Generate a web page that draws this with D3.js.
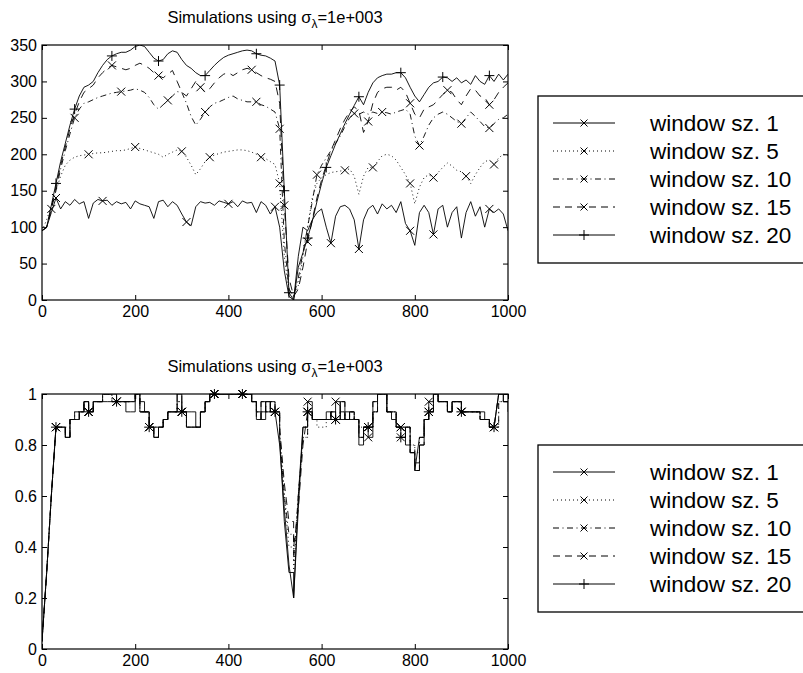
<!DOCTYPE html>
<html>
<head>
<meta charset="utf-8">
<script src="https://cdn.jsdelivr.net/npm/d3@7/dist/d3.min.js"></script>
<style>
body { margin: 0; background: #fff; }
svg { display: block; }
text { font-family: "Liberation Sans", Arial, sans-serif; fill: #000; }
</style>
</head>
<body>
<div id="chart-area"></div>
<script>
// sample positions (iteration) shared by every series
var sampleX = [0,10,20,30,40,50,60,70,80,90,100,110,120,130,140,150,160,170,180,190,
  200,210,220,230,240,250,260,270,280,290,300,310,320,330,340,350,360,370,380,390,
  400,410,420,430,440,450,460,470,480,490,500,510,520,530,540,550,560,570,580,590,
  600,610,620,630,640,650,660,670,680,690,700,710,720,730,740,750,760,770,780,790,
  800,810,820,830,840,850,860,870,880,890,900,910,920,930,940,950,960,970,980,990,1000];

var seriesNames = ["window sz. 1", "window sz. 5", "window sz. 10", "window sz. 15", "window sz. 20"];
var titleMain = "Simulations using \u03c3", titleSub = "\u03bb", titleTail = "=1e+003";

var xTicks = [0, 200, 400, 600, 800, 1000];
var yTicksTop = [0, 50, 100, 150, 200, 250, 300, 350];
var yTicksBottom = [0, 0.2, 0.4, 0.6, 0.8, 1];

// top panel values
var top1 = [95,100,120,140,125,135,130,138,132,135, 112,133,138,136,137,130,135,132,134,125,
  136,132,130,128,112,135,137,128,135,130, 118,107,102,128,135,133,134,130,136,134,
  132,135,128,136,133,134,120,135,130,118, 128,100,40,5,0,60,100,95,110,120,
  125,100,78,115,128,130,125,110,70,110, 125,130,118,132,125,130,120,135,105,95,
  75,120,130,120,90,125,130,100,120,128, 85,120,135,115,128,100,125,120,125,118, 95];
var top5 = [95,110,130,150,170,185,192,196,198,199, 200,201,202,202,203,204,205,205,206,208,
  210,208,206,204,202,200,196,200,203,206, 204,196,185,172,180,190,196,199,201,203,
  204,205,206,206,205,203,200,196,194,190, 186,160,60,10,2,20,60,100,140,160,
  168,172,175,176,177,178,180,170,145,170, 182,182,190,198,200,198,192,182,172,160,
  132,155,168,172,168,175,182,188,184,178, 176,170,160,172,182,190,192,186,195,200, 198];
var top10 = [95,100,125,150,180,205,228,250,262,270, 272,275,278,280,282,284,285,286,287,288,
  290,288,285,278,268,262,268,274,280,286, 285,270,252,240,248,258,265,270,272,275,
  278,280,276,274,272,272,272,268,266,262, 258,235,80,15,5,30,65,100,135,172,
  185,195,205,215,225,238,250,256,255,258, 255,258,256,258,257,255,258,260,262,255,
  225,212,225,240,250,255,258,255,250,245, 242,250,258,252,245,238,236,242,248,250, 255];
var top15 = [95,100,125,155,185,210,235,255,272,285, 290,295,305,312,318,322,320,318,316,318,
  322,325,322,318,312,308,305,310,315,300, 285,280,290,300,292,285,290,298,305,310,
  312,308,312,316,318,316,312,308,305,303, 300,270,130,30,5,15,45,80,110,140,
  165,185,205,220,235,248,258,265,260,230, 245,270,285,290,292,292,288,292,285,270,
  255,250,262,265,268,275,282,288,285,275, 268,280,290,288,280,278,268,275,285,292, 298];
var top20 = [95,100,130,160,190,215,240,262,280,292, 295,300,312,322,330,335,338,340,340,343,
  348,350,348,340,332,328,330,338,342,340, 330,322,318,312,308,308,315,322,328,333,
  336,338,340,342,343,342,338,336,335,332, 328,295,150,10,0,45,65,85,108,135,
  160,182,198,214,228,242,255,267,279,268, 285,298,305,308,310,310,312,312,305,292,
  280,272,282,292,298,300,306,305,300,305, 298,302,296,308,300,296,308,300,310,302, 310];

var topMarks1 = [30,130,310,400,500,620,680,790,840,960];
var topMarks5 = [100,200,300,360,470,510,650,710,790,840,910,970];
var topMarks10 = [70,170,270,350,460,510,590,670,730,810,900,960];
var topMarks15 = [20,150,250,340,450,520,570,700,790,870,960];
var topMarks20 = [30,70,150,250,350,460,510,520,530,570,610,680,770,860,960];

// bottom panel values
var bot1 = [0.03,0.3,0.6,0.87,0.87,0.83,0.9,0.93,0.93,0.97, 0.93,0.97,0.97,0.97,0.97,0.97,0.97,0.97,0.93,0.93,
  1,0.97,0.93,0.87,0.83,0.87,0.9,0.93,0.93,0.93, 0.93,0.93,0.93,0.87,0.93,0.97,1,1,1,1,
  1,1,1,1,1,0.97,0.93,0.9,0.97,0.93, 0.93,0.83,0.5,0.3,0.2,0.55,0.87,0.97,0.9,0.9,
  0.9,0.93,0.9,0.97,0.9,0.93,0.9,0.9,0.8,0.87, 0.83,0.93,1,1,0.93,0.9,0.87,0.87,0.8,0.77,
  0.7,0.83,0.9,0.97,1,0.97,0.97,0.93,0.97,0.97, 0.93,0.93,0.93,0.93,0.93,0.9,0.87,0.87,1,0.97, 0.93];
var bot5 = [0.03,0.3,0.6,0.87,0.87,0.87,0.9,0.93,0.93,0.97, 0.93,0.97,0.97,1,1,0.97,0.97,0.97,0.97,0.97,
  1,0.93,0.93,0.87,0.87,0.87,0.9,0.93,0.93,0.97, 0.93,0.87,0.87,0.87,0.93,0.97,1,1,1,1,
  1,1,1,1,1,0.97,0.93,0.93,0.93,0.97, 0.93,0.83,0.6,0.4,0.3,0.6,0.83,0.93,0.9,0.87,
  0.87,0.9,0.93,0.9,0.93,0.9,0.93,0.9,0.87,0.87, 0.87,0.93,1,1,0.93,0.93,0.87,0.87,0.87,0.8,
  0.77,0.83,0.9,0.93,1,0.97,0.97,0.93,0.97,0.97, 0.93,0.93,0.93,0.93,0.9,0.9,0.87,0.87,0.97,0.97, 0.97];
var bot10 = [0.03,0.3,0.6,0.87,0.87,0.83,0.9,0.9,0.93,0.97, 0.93,0.97,0.97,1,1,0.97,0.97,0.97,0.97,0.97,
  1,0.93,0.93,0.87,0.87,0.87,0.9,0.93,0.93,0.97, 0.93,0.87,0.87,0.87,0.93,0.97,1,1,1,1,
  1,1,1,1,1,0.97,0.93,0.93,0.97,0.93, 0.93,0.85,0.6,0.45,0.35,0.6,0.83,0.93,0.9,0.9,
  0.9,0.9,0.93,0.9,0.93,0.9,0.93,0.9,0.87,0.87, 0.87,0.93,1,1,0.93,0.93,0.87,0.87,0.87,0.8,
  0.73,0.83,0.9,0.93,1,0.97,0.97,0.93,0.97,0.97, 0.93,0.93,0.93,0.93,0.9,0.9,0.87,0.87,0.97,0.97, 0.97];
var bot15 = [0.03,0.3,0.6,0.87,0.87,0.83,0.9,0.9,0.93,0.97, 0.93,0.97,0.97,1,1,1,0.97,0.97,0.97,0.97,
  1,0.93,0.93,0.87,0.83,0.87,0.9,0.93,0.93,1, 0.93,0.87,0.87,0.87,0.93,0.97,1,1,1,1,
  1,1,1,1,1,0.97,0.9,0.97,0.93,0.97, 0.93,0.87,0.65,0.5,0.4,0.55,0.8,0.93,0.9,0.9,
  0.9,0.9,0.93,0.9,0.97,0.9,0.93,0.9,0.83,0.87, 0.87,0.97,1,1,0.93,0.93,0.87,0.83,0.87,0.77,
  0.7,0.8,0.9,0.93,1,0.97,0.97,0.93,0.97,0.97, 0.93,0.93,0.93,0.93,0.9,0.9,0.87,0.87,1,0.97, 0.97];
var bot20 = [0.03,0.3,0.6,0.87,0.87,0.83,0.9,0.9,0.93,0.97, 0.93,0.97,0.97,1,1,1,0.97,0.97,0.97,0.97,
  1,0.93,0.93,0.87,0.83,0.87,0.9,0.93,0.93,1, 0.93,0.87,0.87,0.87,0.93,0.97,1,1,1,1,
  1,1,1,1,1,0.97,0.9,0.97,0.93,0.97, 0.93,0.8,0.55,0.33,0.2,0.6,0.87,0.93,0.9,0.9,
  0.9,0.9,0.93,0.9,0.97,0.9,0.93,0.9,0.83,0.87, 0.87,0.97,1,1,0.93,0.93,0.87,0.83,0.87,0.77,
  0.7,0.8,0.9,0.93,1,0.97,0.97,0.93,0.97,0.97, 0.93,0.93,0.93,0.93,0.9,0.9,0.87,0.87,1,0.97, 0.97];

var botMarks = [30,100,160,230,300,370,430,500,570,630,700,770,830,900,970];

// line styles, one per window size
var dashes = [null, "1,3", "6,3.5,1,3.5", "8,6", null];
var legendDashes = [null, "1,3", "6,3.5,1,3.5", "7,5", null];
var markerKind = ["x", "x", "x", "x", "+"];

var W = 803, H = 673;
var plotW = 466, plotH = 255;

var svg = d3.select("#chart-area")
    .append("svg")
        .attr("width", W)
        .attr("height", H);

var x = d3.scaleLinear().domain([0, 1000]).range([0, plotW]);

function markerPath(kind, r) {
    if (kind == "+") return "M" + (-r) + ",0H" + r + "M0," + (-r) + "V" + r;
    return "M" + (-r) + "," + (-r) + "L" + r + "," + r + "M" + (-r) + "," + r + "L" + r + "," + (-r);
}

// quantised fractions: small changes are drawn as stairs, big jumps as slopes
function stairs(pts, jump) {
    var out = [];
    pts.forEach(function (p, k) {
        out.push(p);
        var nxt = pts[k + 1];
        if (nxt && Math.abs(nxt[1] - p[1]) < jump) out.push([nxt[0], p[1]]);
    });
    return out;
}

function drawPanel(id, left, top, yMax, yTicks, allSeries, allMarks, stepJump) {
    var g = svg.append("g").attr("transform", "translate(" + left + "," + top + ")");
    var y = d3.scaleLinear().domain([0, yMax]).range([plotH, 0]);

    g.append("clipPath").attr("id", id)
        .append("rect").attr("width", plotW).attr("height", plotH);

    // axes, ticks pointing inside like matlab
    g.append("g").attr("transform", "translate(0," + plotH + ")")
        .call(d3.axisBottom(x).tickValues(xTicks).tickSizeInner(-5).tickSizeOuter(0).tickPadding(6)
            .tickFormat(function (d) { return d; }));
    g.append("g").call(d3.axisTop(x).tickValues(xTicks).tickSizeInner(-5).tickSizeOuter(0).tickFormat(""));
    g.append("g")
        .call(d3.axisLeft(y).tickValues(yTicks).tickSizeInner(-5).tickSizeOuter(0).tickPadding(5)
            .tickFormat(function (d) { return d; }));
    g.append("g").attr("transform", "translate(" + plotW + ",0)")
        .call(d3.axisRight(y).tickValues(yTicks).tickSizeInner(-5).tickSizeOuter(0).tickFormat(""));
    g.selectAll(".domain").remove();
    g.selectAll(".tick line").attr("stroke", "#000");
    g.selectAll(".tick text")
        .attr("font-size", 16)
        .attr("font-family", "Liberation Sans, Arial, sans-serif");

    var line = d3.line()
        .x(function (d) { return x(d[0]); })
        .y(function (d) { return y(d[1]); });

    allSeries.forEach(function (vals, i) {
        var pts = sampleX.map(function (sx, k) { return [sx, vals[k]]; });
        if (stepJump) pts = stairs(pts, stepJump);
        g.append("path")
            .attr("d", line(pts))
            .attr("fill", "none")
            .attr("stroke", "#000")
            .attr("stroke-width", 0.9)
            .attr("stroke-dasharray", dashes[i])
            .attr("clip-path", "url(#" + id + ")");

        var marks = allMarks[i].map(function (mx) { return [mx, vals[sampleX.indexOf(mx)]]; });
        g.selectAll(".m" + i).data(marks).enter()
            .append("path")
            .attr("class", "m" + i)
            .attr("transform", function (d) { return "translate(" + x(d[0]) + "," + y(d[1]) + ")"; })
            .attr("d", markerPath(markerKind[i], markerKind[i] == "+" ? 5 : 4))
            .attr("stroke", "#000")
            .attr("stroke-width", 1);
    });

    // plot box
    g.append("rect")
        .attr("width", plotW).attr("height", plotH)
        .attr("fill", "none").attr("stroke", "#000").attr("stroke-width", 1.2);

    // title with subscripted lambda
    var t = g.append("text")
        .attr("x", plotW / 2).attr("y", -22)
        .attr("text-anchor", "middle")
        .attr("font-size", 16.5);
    t.append("tspan").text(titleMain);
    t.append("tspan").attr("font-size", 12).attr("dy", 5).text(titleSub);
    t.append("tspan").attr("dy", -5).text(titleTail);

    // legend box (runs off the right edge in the original)
    var lg = svg.append("g").attr("transform", "translate(538," + (top + 51) + ")");
    lg.append("rect")
        .attr("width", 300).attr("height", 167)
        .attr("fill", "#fff").attr("stroke", "#000").attr("stroke-width", 1.3);
    seriesNames.forEach(function (name, i) {
        var ry = 27 + i * 28;
        lg.append("line")
            .attr("x1", 15).attr("x2", 77).attr("y1", ry).attr("y2", ry)
            .attr("stroke", "#000").attr("stroke-width", 1)
            .attr("stroke-dasharray", legendDashes[i]);
        lg.append("path")
            .attr("transform", "translate(46," + ry + ")")
            .attr("d", markerPath(markerKind[i], markerKind[i] == "+" ? 5 : 3.5))
            .attr("stroke", "#000").attr("stroke-width", 1);
        lg.append("text")
            .attr("x", 112).attr("y", ry).attr("dy", "0.35em")
            .attr("font-size", 22.5)
            .text(name);
    });
}

drawPanel("clipTop", 42, 45, 350, yTicksTop,
    [top1, top5, top10, top15, top20],
    [topMarks1, topMarks5, topMarks10, topMarks15, topMarks20],
    0);

drawPanel("clipBottom", 42, 394, 1, yTicksBottom,
    [bot1, bot5, bot10, bot15, bot20],
    [botMarks, botMarks, botMarks, botMarks, botMarks],
    0.12);
</script>
</body>
</html>
